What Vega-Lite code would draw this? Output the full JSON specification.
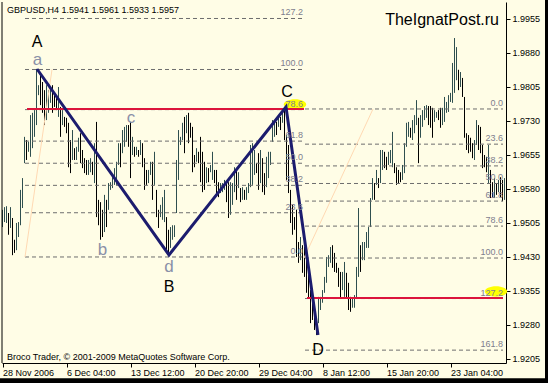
{
"$schema": "https://vega.github.io/schema/vega-lite/v6.json",
"width": 504, "height": 361,
"autosize": {"type": "none"},
"padding": {"left": 2, "top": 2, "right": 42, "bottom": 20},
"background": "#FFFDE6",
"config": {"view": {"stroke": null, "fill": "#FFFDE6"}, "font": "Liberation Sans"},
"datasets": {
"bars": [
{"i":0,"h":1.9534,"l":1.9496,"d":"u"},{"i":1,"h":1.9540,"l":1.9507,"d":"u"},{"i":2,"h":1.9542,"l":1.9505,"d":"u"},{"i":3,"h":1.9527,"l":1.9479,"d":"d"},{"i":4,"h":1.9540,"l":1.9494,"d":"u"},{"i":5,"h":1.9516,"l":1.9434,"d":"d"},{"i":6,"h":1.9468,"l":1.9439,"d":"d"},{"i":7,"h":1.9505,"l":1.9445,"d":"u"},{"i":8,"h":1.9507,"l":1.9474,"d":"u"},{"i":9,"h":1.9578,"l":1.9500,"d":"u"},
{"i":10,"h":1.9604,"l":1.9538,"d":"u"},{"i":11,"h":1.9695,"l":1.9637,"d":"u"},{"i":12,"h":1.9688,"l":1.9644,"d":"d"},{"i":13,"h":1.9684,"l":1.9662,"d":"u"},{"i":14,"h":1.9743,"l":1.9651,"d":"u"},{"i":15,"h":1.9748,"l":1.9670,"d":"u"},{"i":16,"h":1.9754,"l":1.9695,"d":"u"},{"i":17,"h":1.9845,"l":1.9721,"d":"u"},{"i":18,"h":1.9809,"l":1.9787,"d":"u"},{"i":19,"h":1.9832,"l":1.9765,"d":"d"},
{"i":20,"h":1.9816,"l":1.9748,"d":"d"},{"i":21,"h":1.9798,"l":1.9721,"d":"d"},{"i":22,"h":1.9809,"l":1.9732,"d":"u"},{"i":23,"h":1.9798,"l":1.9748,"d":"u"},{"i":24,"h":1.9805,"l":1.9770,"d":"u"},{"i":25,"h":1.9809,"l":1.9748,"d":"d"},{"i":26,"h":1.9792,"l":1.9761,"d":"d"},{"i":27,"h":1.9783,"l":1.9754,"d":"d"},{"i":28,"h":1.9805,"l":1.9739,"d":"u"},{"i":29,"h":1.9761,"l":1.9695,"d":"d"},
{"i":30,"h":1.9754,"l":1.9721,"d":"u"},{"i":31,"h":1.9739,"l":1.9717,"d":"d"},{"i":32,"h":1.9737,"l":1.9703,"d":"d"},{"i":33,"h":1.9726,"l":1.9628,"d":"d"},{"i":34,"h":1.9688,"l":1.9615,"d":"d"},{"i":35,"h":1.9710,"l":1.9644,"d":"u"},{"i":36,"h":1.9670,"l":1.9644,"d":"d"},{"i":37,"h":1.9673,"l":1.9644,"d":"u"},{"i":38,"h":1.9693,"l":1.9662,"d":"u"},{"i":39,"h":1.9703,"l":1.9637,"d":"d"},
{"i":40,"h":1.9666,"l":1.9626,"d":"d"},{"i":41,"h":1.9648,"l":1.9615,"d":"d"},{"i":42,"h":1.9644,"l":1.9611,"d":"d"},{"i":43,"h":1.9644,"l":1.9611,"d":"u"},{"i":44,"h":1.9648,"l":1.9617,"d":"u"},{"i":45,"h":1.9640,"l":1.9611,"d":"d"},{"i":46,"h":1.9681,"l":1.9593,"d":"u"},{"i":47,"h":1.9728,"l":1.9518,"d":"d"},{"i":48,"h":1.9556,"l":1.9500,"d":"d"},{"i":49,"h":1.9551,"l":1.9468,"d":"d"},
{"i":50,"h":1.9534,"l":1.9474,"d":"d"},{"i":51,"h":1.9567,"l":1.9485,"d":"u"},{"i":52,"h":1.9556,"l":1.9496,"d":"d"},{"i":53,"h":1.9593,"l":1.9534,"d":"u"},{"i":54,"h":1.9595,"l":1.9578,"d":"u"},{"i":55,"h":1.9606,"l":1.9582,"d":"u"},{"i":56,"h":1.9626,"l":1.9589,"d":"u"},{"i":57,"h":1.9640,"l":1.9589,"d":"u"},{"i":58,"h":1.9681,"l":1.9633,"d":"u"},{"i":59,"h":1.9681,"l":1.9628,"d":"d"},
{"i":60,"h":1.9710,"l":1.9659,"d":"u"},{"i":61,"h":1.9717,"l":1.9673,"d":"u"},{"i":62,"h":1.9721,"l":1.9684,"d":"u"},{"i":63,"h":1.9721,"l":1.9673,"d":"d"},{"i":64,"h":1.9728,"l":1.9604,"d":"d"},{"i":65,"h":1.9695,"l":1.9655,"d":"u"},{"i":66,"h":1.9673,"l":1.9651,"d":"d"},{"i":67,"h":1.9673,"l":1.9655,"d":"u"},{"i":68,"h":1.9666,"l":1.9651,"d":"d"},{"i":69,"h":1.9688,"l":1.9655,"d":"u"},
{"i":70,"h":1.9681,"l":1.9628,"d":"d"},{"i":71,"h":1.9648,"l":1.9578,"d":"d"},{"i":72,"h":1.9622,"l":1.9589,"d":"d"},{"i":73,"h":1.9622,"l":1.9593,"d":"u"},{"i":74,"h":1.9640,"l":1.9611,"d":"u"},{"i":75,"h":1.9640,"l":1.9556,"d":"d"},{"i":76,"h":1.9662,"l":1.9589,"d":"u"},{"i":77,"h":1.9578,"l":1.9518,"d":"d"},{"i":78,"h":1.9534,"l":1.9494,"d":"d"},{"i":79,"h":1.9545,"l":1.9518,"d":"u"},
{"i":80,"h":1.9562,"l":1.9512,"d":"u"},{"i":81,"h":1.9578,"l":1.9507,"d":"u"},{"i":82,"h":1.9518,"l":1.9445,"d":"d"},{"i":83,"h":1.9490,"l":1.9434,"d":"d"},{"i":84,"h":1.9496,"l":1.9450,"d":"u"},{"i":85,"h":1.9500,"l":1.9468,"d":"u"},{"i":86,"h":1.9500,"l":1.9474,"d":"u"},{"i":87,"h":1.9644,"l":1.9527,"d":"u"},{"i":88,"h":1.9710,"l":1.9600,"d":"u"},{"i":89,"h":1.9695,"l":1.9677,"d":"u"},
{"i":90,"h":1.9726,"l":1.9688,"d":"u"},{"i":91,"h":1.9739,"l":1.9659,"d":"d"},{"i":92,"h":1.9743,"l":1.9703,"d":"u"},{"i":93,"h":1.9748,"l":1.9681,"d":"d"},{"i":94,"h":1.9726,"l":1.9693,"d":"d"},{"i":95,"h":1.9717,"l":1.9617,"d":"d"},{"i":96,"h":1.9655,"l":1.9628,"d":"d"},{"i":97,"h":1.9670,"l":1.9640,"d":"u"},{"i":98,"h":1.9662,"l":1.9637,"d":"d"},{"i":99,"h":1.9695,"l":1.9595,"d":"d"},
{"i":100,"h":1.9662,"l":1.9573,"d":"d"},{"i":101,"h":1.9640,"l":1.9578,"d":"d"},{"i":102,"h":1.9628,"l":1.9593,"d":"u"},{"i":103,"h":1.9626,"l":1.9595,"d":"d"},{"i":104,"h":1.9633,"l":1.9617,"d":"u"},{"i":105,"h":1.9662,"l":1.9600,"d":"u"},{"i":106,"h":1.9622,"l":1.9593,"d":"d"},{"i":107,"h":1.9622,"l":1.9571,"d":"d"},{"i":108,"h":1.9595,"l":1.9562,"d":"d"},{"i":109,"h":1.9593,"l":1.9571,"d":"u"},
{"i":110,"h":1.9593,"l":1.9573,"d":"u"},{"i":111,"h":1.9600,"l":1.9578,"d":"u"},{"i":112,"h":1.9593,"l":1.9551,"d":"d"},{"i":113,"h":1.9595,"l":1.9516,"d":"d"},{"i":114,"h":1.9595,"l":1.9523,"d":"u"},{"i":115,"h":1.9593,"l":1.9545,"d":"u"},{"i":116,"h":1.9628,"l":1.9573,"d":"u"},{"i":117,"h":1.9622,"l":1.9556,"d":"d"},{"i":118,"h":1.9617,"l":1.9582,"d":"u"},{"i":119,"h":1.9582,"l":1.9551,"d":"d"},
{"i":120,"h":1.9584,"l":1.9556,"d":"u"},{"i":121,"h":1.9578,"l":1.9556,"d":"d"},{"i":122,"h":1.9584,"l":1.9556,"d":"u"},{"i":123,"h":1.9593,"l":1.9571,"d":"u"},{"i":124,"h":1.9677,"l":1.9584,"d":"u"},{"i":125,"h":1.9681,"l":1.9589,"d":"u"},{"i":126,"h":1.9666,"l":1.9611,"d":"u"},{"i":127,"h":1.9637,"l":1.9615,"d":"d"},{"i":128,"h":1.9659,"l":1.9578,"d":"d"},{"i":129,"h":1.9666,"l":1.9593,"d":"u"},
{"i":130,"h":1.9648,"l":1.9573,"d":"d"},{"i":131,"h":1.9615,"l":1.9567,"d":"d"},{"i":132,"h":1.9651,"l":1.9584,"d":"u"},{"i":133,"h":1.9662,"l":1.9604,"d":"u"},{"i":134,"h":1.9662,"l":1.9633,"d":"u"},{"i":135,"h":1.9732,"l":1.9684,"d":"u"},{"i":136,"h":1.9732,"l":1.9695,"d":"u"},{"i":137,"h":1.9728,"l":1.9699,"d":"d"},{"i":138,"h":1.9737,"l":1.9717,"d":"u"},{"i":139,"h":1.9739,"l":1.9710,"d":"d"},
{"i":140,"h":1.9754,"l":1.9726,"d":"u"},{"i":141,"h":1.9761,"l":1.9688,"d":"d"},{"i":142,"h":1.9699,"l":1.9600,"d":"d"},{"i":143,"h":1.9677,"l":1.9571,"d":"d"},{"i":144,"h":1.9578,"l":1.9505,"d":"d"},{"i":145,"h":1.9545,"l":1.9479,"d":"d"},{"i":146,"h":1.9518,"l":1.9490,"d":"d"},{"i":147,"h":1.9534,"l":1.9430,"d":"d"},{"i":148,"h":1.9463,"l":1.9417,"d":"d"},{"i":149,"h":1.9474,"l":1.9423,"d":"u"},
{"i":150,"h":1.9456,"l":1.9395,"d":"d"},{"i":151,"h":1.9452,"l":1.9386,"d":"d"},{"i":152,"h":1.9423,"l":1.9351,"d":"d"},{"i":153,"h":1.9397,"l":1.9340,"d":"d"},{"i":154,"h":1.9357,"l":1.9284,"d":"d"},{"i":155,"h":1.9335,"l":1.9291,"d":"d"},{"i":156,"h":1.9306,"l":1.9269,"d":"d"},{"i":157,"h":1.9297,"l":1.9258,"d":"d"},{"i":158,"h":1.9342,"l":1.9284,"d":"u"},{"i":159,"h":1.9342,"l":1.9313,"d":"u"},
{"i":160,"h":1.9357,"l":1.9329,"d":"u"},{"i":161,"h":1.9386,"l":1.9351,"d":"u"},{"i":162,"h":1.9430,"l":1.9373,"d":"u"},{"i":163,"h":1.9434,"l":1.9408,"d":"u"},{"i":164,"h":1.9452,"l":1.9417,"d":"u"},{"i":165,"h":1.9456,"l":1.9406,"d":"d"},{"i":166,"h":1.9439,"l":1.9397,"d":"d"},{"i":167,"h":1.9417,"l":1.9395,"d":"d"},{"i":168,"h":1.9406,"l":1.9364,"d":"d"},{"i":169,"h":1.9397,"l":1.9340,"d":"d"},
{"i":170,"h":1.9397,"l":1.9357,"d":"u"},{"i":171,"h":1.9419,"l":1.9342,"d":"u"},{"i":172,"h":1.9395,"l":1.9340,"d":"d"},{"i":173,"h":1.9373,"l":1.9313,"d":"d"},{"i":174,"h":1.9342,"l":1.9309,"d":"d"},{"i":175,"h":1.9340,"l":1.9318,"d":"u"},{"i":176,"h":1.9346,"l":1.9318,"d":"u"},{"i":177,"h":1.9408,"l":1.9340,"d":"u"},{"i":178,"h":1.9538,"l":1.9386,"d":"u"},{"i":179,"h":1.9456,"l":1.9397,"d":"d"},
{"i":180,"h":1.9463,"l":1.9423,"d":"u"},{"i":181,"h":1.9463,"l":1.9423,"d":"u"},{"i":182,"h":1.9485,"l":1.9450,"d":"u"},{"i":183,"h":1.9496,"l":1.9450,"d":"u"},{"i":184,"h":1.9560,"l":1.9496,"d":"u"},{"i":185,"h":1.9604,"l":1.9556,"d":"u"},{"i":186,"h":1.9593,"l":1.9556,"d":"d"},{"i":187,"h":1.9622,"l":1.9589,"d":"u"},{"i":188,"h":1.9604,"l":1.9582,"d":"d"},{"i":189,"h":1.9666,"l":1.9593,"d":"u"},
{"i":190,"h":1.9666,"l":1.9622,"d":"u"},{"i":191,"h":1.9662,"l":1.9626,"d":"d"},{"i":192,"h":1.9651,"l":1.9622,"d":"d"},{"i":193,"h":1.9662,"l":1.9633,"d":"u"},{"i":194,"h":1.9666,"l":1.9637,"d":"u"},{"i":195,"h":1.9706,"l":1.9628,"d":"u"},{"i":196,"h":1.9637,"l":1.9615,"d":"d"},{"i":197,"h":1.9628,"l":1.9589,"d":"d"},{"i":198,"h":1.9622,"l":1.9593,"d":"d"},{"i":199,"h":1.9617,"l":1.9595,"d":"d"},
{"i":200,"h":1.9633,"l":1.9600,"d":"u"},{"i":201,"h":1.9681,"l":1.9615,"d":"u"},{"i":202,"h":1.9726,"l":1.9673,"d":"u"},{"i":203,"h":1.9728,"l":1.9695,"d":"u"},{"i":204,"h":1.9715,"l":1.9693,"d":"d"},{"i":205,"h":1.9732,"l":1.9688,"d":"u"},{"i":206,"h":1.9743,"l":1.9703,"d":"u"},{"i":207,"h":1.9776,"l":1.9721,"d":"u"},{"i":208,"h":1.9737,"l":1.9637,"d":"d"},{"i":209,"h":1.9743,"l":1.9693,"d":"u"},
{"i":210,"h":1.9754,"l":1.9717,"d":"u"},{"i":211,"h":1.9763,"l":1.9732,"d":"u"},{"i":212,"h":1.9765,"l":1.9737,"d":"u"},{"i":213,"h":1.9763,"l":1.9721,"d":"d"},{"i":214,"h":1.9763,"l":1.9715,"d":"d"},{"i":215,"h":1.9759,"l":1.9693,"d":"d"},{"i":216,"h":1.9754,"l":1.9728,"d":"u"},{"i":217,"h":1.9750,"l":1.9737,"d":"u"},{"i":218,"h":1.9754,"l":1.9732,"d":"d"},{"i":219,"h":1.9759,"l":1.9715,"d":"d"},
{"i":220,"h":1.9759,"l":1.9721,"d":"u"},{"i":221,"h":1.9783,"l":1.9728,"d":"u"},{"i":222,"h":1.9772,"l":1.9748,"d":"u"},{"i":223,"h":1.9787,"l":1.9750,"d":"u"},{"i":224,"h":1.9792,"l":1.9772,"d":"u"},{"i":225,"h":1.9858,"l":1.9770,"d":"u"},{"i":226,"h":1.9913,"l":1.9792,"d":"u"},{"i":227,"h":1.9893,"l":1.9820,"d":"u"},{"i":228,"h":1.9843,"l":1.9798,"d":"d"},{"i":229,"h":1.9838,"l":1.9805,"d":"u"},
{"i":230,"h":1.9825,"l":1.9783,"d":"d"},{"i":231,"h":1.9783,"l":1.9693,"d":"d"},{"i":232,"h":1.9703,"l":1.9666,"d":"d"},{"i":233,"h":1.9699,"l":1.9659,"d":"d"},{"i":234,"h":1.9693,"l":1.9662,"d":"d"},{"i":235,"h":1.9681,"l":1.9648,"d":"d"},{"i":236,"h":1.9688,"l":1.9644,"d":"u"},{"i":237,"h":1.9732,"l":1.9677,"d":"u"},{"i":238,"h":1.9721,"l":1.9666,"d":"d"},{"i":239,"h":1.9717,"l":1.9659,"d":"d"},
{"i":240,"h":1.9677,"l":1.9626,"d":"d"},{"i":241,"h":1.9655,"l":1.9628,"d":"d"},{"i":242,"h":1.9651,"l":1.9617,"d":"d"},{"i":243,"h":1.9677,"l":1.9593,"d":"u"},{"i":244,"h":1.9622,"l":1.9560,"d":"d"},{"i":245,"h":1.9595,"l":1.9562,"d":"d"},{"i":246,"h":1.9604,"l":1.9560,"d":"u"},{"i":247,"h":1.9593,"l":1.9567,"d":"d"},{"i":248,"h":1.9600,"l":1.9573,"d":"u"},{"i":249,"h":1.9606,"l":1.9562,"d":"d"},
{"i":250,"h":1.9600,"l":1.9553,"d":"d"},{"i":251,"h":1.9604,"l":1.9556,"d":"u"}
],
"fibs": [
{"x1":11.25,"x2":150.25,"p":1.99561,"t":"127.2"},
{"x1":11.25,"x2":150.25,"p":1.98436,"t":"100.0"},
{"x1":11.25,"x2":150.25,"p":1.97551,"t":"78.6"},
{"x1":11.25,"x2":150.25,"p":1.96856,"t":"61.8"},
{"x1":11.25,"x2":150.25,"p":1.96368,"t":"50.0"},
{"x1":11.25,"x2":150.25,"p":1.95880,"t":"38.2"},
{"x1":11.25,"x2":150.25,"p":1.95276,"t":"23.6"},
{"x1":11.25,"x2":150.25,"p":1.94300,"t":"0.0"},
{"x1":151.25,"x2":250.25,"p":1.97565,"t":"0.0"},
{"x1":151.25,"x2":250.25,"p":1.96789,"t":"23.6"},
{"x1":151.25,"x2":250.25,"p":1.96309,"t":"38.2"},
{"x1":151.25,"x2":250.25,"p":1.95921,"t":"50.0"},
{"x1":151.25,"x2":250.25,"p":1.95533,"t":"61.8"},
{"x1":151.25,"x2":250.25,"p":1.94981,"t":"78.6"},
{"x1":151.25,"x2":250.25,"p":1.94277,"t":"100.0"},
{"x1":151.25,"x2":250.25,"p":1.93383,"t":"127.2"},
{"x1":151.25,"x2":250.25,"p":1.92245,"t":"161.8"}
],
"marks": [{"i":146.25,"p":1.97664},{"i":246.75,"p":1.93538}],
"red": [{"x1":12.25,"x2":150.75,"p":1.97565},{"x1":152.25,"x2":250.25,"p":1.93395}],
"zigzag": [{"i":17.25,"p":1.98447},{"i":83.25,"p":1.94344},{"i":141.75,"p":1.97609},{"i":157.75,"p":1.92579}],
"diag": [{"g":"L","i":11.25,"p":1.94300},{"g":"L","i":24.75,"p":1.98436},{"g":"R","i":150.75,"p":1.94277},{"g":"R","i":185.25,"p":1.97565}],
"letters": [
{"k":"cap","t":"A","i":17.25,"p":1.99042},{"k":"cap","t":"B","i":83.25,"p":1.93638},{"k":"cap","t":"C","i":142.25,"p":1.97940},{"k":"cap","t":"D","i":157.75,"p":1.92248},
{"k":"low","t":"a","i":17.5,"p":1.98645},{"k":"low","t":"b","i":50,"p":1.94454},{"k":"low","t":"c","i":64.25,"p":1.97366},{"k":"low","t":"d","i":83.25,"p":1.94079}
],
"notes": [
{"t":"GBPUSD,H4  1.5941 1.5961 1.5933 1.5957","i":2.25,"p":1.99748,"k":"title"},
{"t":"Broco Trader, © 2001-2009 MetaQuotes Software Corp.","i":2.25,"p":1.92094,"k":"copy"},
{"t":"TheIgnatPost.ru","i":248.25,"p":1.99528,"k":"brand"}
],
"frame": [
{"k":"left","x1":-0.25,"x2":-0.25,"p1":1.99925,"p2":1.91961},
{"k":"edge","x1":272.5,"x2":272.5,"p1":2.01,"p2":1.90},
{"k":"edge","x1":-2,"x2":275,"p1":1.91571,"p2":1.91571}
]
},
"layer": [
{
"data": {"name": "bars"},
"mark": {"type": "rule", "strokeWidth": 1},
"encoding": {
"x": {"field": "i", "type": "quantitative", "title": null,
"scale": {"domain": [-0.25, 251.75], "nice": false, "zero": false},
"axis": {"title": null, "grid": false, "values": [0,32,64,96,128,160,192,224], "tickCount": 20,
"labelExpr": "datum.value==0?'28 Nov 2006':datum.value==32?'6 Dec 04:00':datum.value==64?'13 Dec 12:00':datum.value==96?'20 Dec 20:00':datum.value==128?'29 Dec 04:00':datum.value==160?'8 Jan 12:00':datum.value==192?'15 Jan 20:00':'23 Jan 04:00'",
"labelAlign": "left", "labelFlush": false, "labelOverlap": false, "labelFont": "Liberation Sans", "labelFontSize": 9, "labelColor": "#000000",
"tickSize": 4, "tickColor": "#000000", "domainColor": "#000000", "labelPadding": 1}},
"y": {"field": "h", "type": "quantitative", "title": null,
"scale": {"domain": [1.91961, 1.99925], "nice": false, "zero": false},
"axis": {"title": null, "orient": "right", "grid": false, "tickCount": 20,
"values": [1.9205,1.928,1.9355,1.943,1.9505,1.958,1.9655,1.973,1.9805,1.988,1.9955],
"format": ".4f", "labelOverlap": false, "labelFlush": false, "labelFont": "Liberation Sans", "labelFontSize": 9, "labelColor": "#000000",
"tickSize": 4, "tickColor": "#000000", "domainColor": "#000000", "labelPadding": 2}},
"y2": {"field": "l"},
"color": {"field": "d", "type": "nominal", "scale": {"domain": ["u","d"], "range": ["#2F4F4F","#000000"]}, "legend": null}
}
},
{
"data": {"name": "frame"},
"mark": {"type": "rule", "color": "#000000", "strokeWidth": 1},
"transform": [{"filter": "datum.k=='left'"}],
"encoding": {
"x": {"field": "x1", "type": "quantitative", "title": null},
"x2": {"field": "x2"},
"y": {"field": "p1", "type": "quantitative", "title": null},
"y2": {"field": "p2"}
}
},
{
"data": {"name": "frame"},
"mark": {"type": "rule", "color": "#000000", "strokeWidth": 5, "clip": false},
"transform": [{"filter": "datum.k=='edge'"}],
"encoding": {
"x": {"field": "x1", "type": "quantitative", "title": null},
"x2": {"field": "x2"},
"y": {"field": "p1", "type": "quantitative", "title": null},
"y2": {"field": "p2"}
}
},
{
"data": {"name": "fibs"},
"mark": {"type": "rule", "strokeWidth": 1, "strokeDash": [4,3], "color": "#6E6E6E"},
"encoding": {
"x": {"field": "x1", "type": "quantitative", "title": null},
"x2": {"field": "x2"},
"y": {"field": "p", "type": "quantitative", "title": null}
}
},
{
"data": {"name": "diag"},
"mark": {"type": "line", "strokeWidth": 1, "color": "#FFD9B3"},
"encoding": {
"x": {"field": "i", "type": "quantitative", "title": null},
"y": {"field": "p", "type": "quantitative", "title": null},
"detail": {"field": "g"}
}
},
{
"data": {"name": "marks"},
"mark": {"type": "point", "filled": true, "color": "#FFFF00", "opacity": 1, "size": 500, "shape": "M-1,0A1,0.46,0,1,0,1,0A1,0.46,0,1,0,-1,0Z"},
"encoding": {
"x": {"field": "i", "type": "quantitative", "title": null},
"y": {"field": "p", "type": "quantitative", "title": null}
}
},
{
"data": {"name": "red"},
"mark": {"type": "rule", "strokeWidth": 2, "color": "#DC143C"},
"encoding": {
"x": {"field": "x1", "type": "quantitative", "title": null},
"x2": {"field": "x2"},
"y": {"field": "p", "type": "quantitative", "title": null}
}
},
{
"data": {"name": "zigzag"},
"mark": {"type": "line", "strokeWidth": 3, "color": "#1C1C6E"},
"encoding": {
"x": {"field": "i", "type": "quantitative", "title": null},
"y": {"field": "p", "type": "quantitative", "title": null}
}
},
{
"data": {"name": "fibs"},
"mark": {"type": "text", "align": "right", "baseline": "bottom", "dy": -1, "font": "Liberation Sans", "fontSize": 9, "color": "#7E7E8E"},
"encoding": {
"x": {"field": "x2", "type": "quantitative", "title": null},
"y": {"field": "p", "type": "quantitative", "title": null},
"text": {"field": "t"}
}
},
{
"data": {"name": "letters"},
"transform": [{"filter": "datum.k=='cap'"}],
"mark": {"type": "text", "align": "center", "baseline": "middle", "font": "Liberation Sans", "fontSize": 16, "color": "#000000"},
"encoding": {
"x": {"field": "i", "type": "quantitative", "title": null},
"y": {"field": "p", "type": "quantitative", "title": null},
"text": {"field": "t"}
}
},
{
"data": {"name": "letters"},
"transform": [{"filter": "datum.k=='low'"}],
"mark": {"type": "text", "align": "center", "baseline": "middle", "font": "Liberation Sans", "fontSize": 17, "color": "#8A90A8"},
"encoding": {
"x": {"field": "i", "type": "quantitative", "title": null},
"y": {"field": "p", "type": "quantitative", "title": null},
"text": {"field": "t"}
}
},
{
"data": {"name": "notes"},
"transform": [{"filter": "datum.k!='brand'"}],
"mark": {"type": "text", "align": "left", "baseline": "middle", "font": "Liberation Sans", "fontSize": 9, "color": "#000000"},
"encoding": {
"x": {"field": "i", "type": "quantitative", "title": null},
"y": {"field": "p", "type": "quantitative", "title": null},
"text": {"field": "t"}
}
},
{
"data": {"name": "notes"},
"transform": [{"filter": "datum.k=='brand'"}],
"mark": {"type": "text", "align": "right", "baseline": "middle", "font": "Liberation Sans", "fontSize": 16, "color": "#000000"},
"encoding": {
"x": {"field": "i", "type": "quantitative", "title": null},
"y": {"field": "p", "type": "quantitative", "title": null},
"text": {"field": "t"}
}
}
]
}
